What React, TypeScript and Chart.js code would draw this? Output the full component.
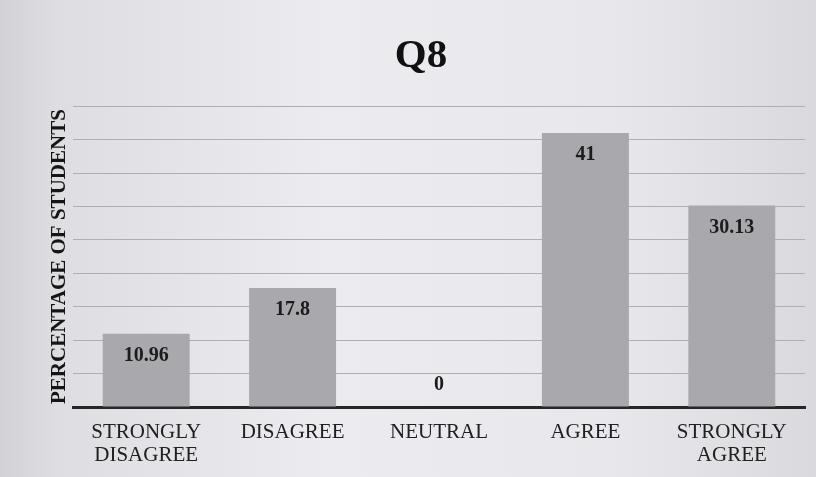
import React, { useEffect, useRef } from "react";
import { Chart, registerables } from "chart.js";

Chart.register(...registerables);

const chartTitle = "Q8";
const yAxisTitle = "PERCENTAGE OF STUDENTS";
const categories: (string | string[])[] = [
  ["STRONGLY", "DISAGREE"],
  "DISAGREE",
  "NEUTRAL",
  "AGREE",
  ["STRONGLY", "AGREE"],
];
const percentages = [10.96, 17.8, 0, 41, 30.13];
const valueLabels = ["10.96", "17.8", "0", "41", "30.13"];
const yMin = 0;
const yMax = 45;
const yStep = 5;

const SERIF = "'Liberation Serif', 'Times New Roman', serif";

const backgroundPlugin = {
  id: "paperBackground",
  beforeDraw(chart: any) {
    const { ctx, width, height } = chart;
    ctx.save();
    const g = ctx.createLinearGradient(0, 0, width, 0);
    g.addColorStop(0, "#d2d2d6");
    g.addColorStop(0.07, "#dedee2");
    g.addColorStop(0.4, "#ececf0");
    g.addColorStop(0.75, "#e8e8ec");
    g.addColorStop(1, "#dadade");
    ctx.fillStyle = g;
    ctx.fillRect(0, 0, width, height);
    ctx.restore();
  },
};

const valueLabelPlugin = {
  id: "valueLabels",
  afterDatasetsDraw(chart: any) {
    const { ctx } = chart;
    const meta = chart.getDatasetMeta(0);
    ctx.save();
    ctx.font = `bold 20px ${SERIF}`;
    ctx.fillStyle = "#1c1c1c";
    ctx.textAlign = "center";
    ctx.textBaseline = "middle";
    meta.data.forEach((bar: any, i: number) => {
      const v = percentages[i];
      const y = v > 0 ? bar.y + 22 : bar.base - 22;
      ctx.fillText(valueLabels[i], bar.x, y);
    });
    ctx.restore();
  },
};

export default function App() {
  const canvasRef = useRef<HTMLCanvasElement | null>(null);

  useEffect(() => {
    if (!canvasRef.current) return;
    const chart = new Chart(canvasRef.current, {
      type: "bar",
      data: {
        labels: categories,
        datasets: [
          {
            data: percentages,
            backgroundColor: "#a9a8ac",
            borderWidth: 0,
            barPercentage: 0.594,
            categoryPercentage: 1,
          },
        ],
      },
      options: {
        responsive: false,
        animation: false,
        devicePixelRatio: 1,
        layout: { padding: { left: 37, right: 11, top: 0, bottom: 0 } },
        plugins: {
          legend: { display: false },
          tooltip: { enabled: false },
          title: {
            display: true,
            text: chartTitle,
            color: "#111111",
            font: { family: SERIF, size: 41, weight: "bold", lineHeight: 1.2 },
            padding: { top: 32, bottom: 25 },
          },
        },
        scales: {
          x: {
            grid: { display: false, drawTicks: false },
            border: { display: true, color: "#262626", width: 3 },
            ticks: {
              color: "#202020",
              font: { family: SERIF, size: 21, lineHeight: 1.1 },
              padding: 14,
              maxRotation: 0,
              autoSkip: false,
            },
            afterFit(scale: any) {
              scale.height = 70;
            },
          },
          y: {
            min: yMin,
            max: yMax,
            ticks: { display: false, stepSize: yStep },
            grid: { color: "#afafb3", lineWidth: 1, drawTicks: false },
            border: { display: false },
            title: {
              display: true,
              text: yAxisTitle,
              color: "#151515",
              font: { family: SERIF, size: 21, weight: "bold", lineHeight: 1.2 },
              padding: { top: 10, bottom: 0 },
            },
            afterFit(scale: any) {
              scale.width = 36;
            },
          },
        },
      },
      plugins: [backgroundPlugin, valueLabelPlugin],
    });
    return () => chart.destroy();
  }, []);

  return (
    <div style={{ position: "fixed", left: 0, top: 0, width: 816, height: 477, background: "#e4e4e8" }}>
      <canvas ref={canvasRef} width={816} height={477} style={{ display: "block", width: 816, height: 477 }} />
    </div>
  );
}
